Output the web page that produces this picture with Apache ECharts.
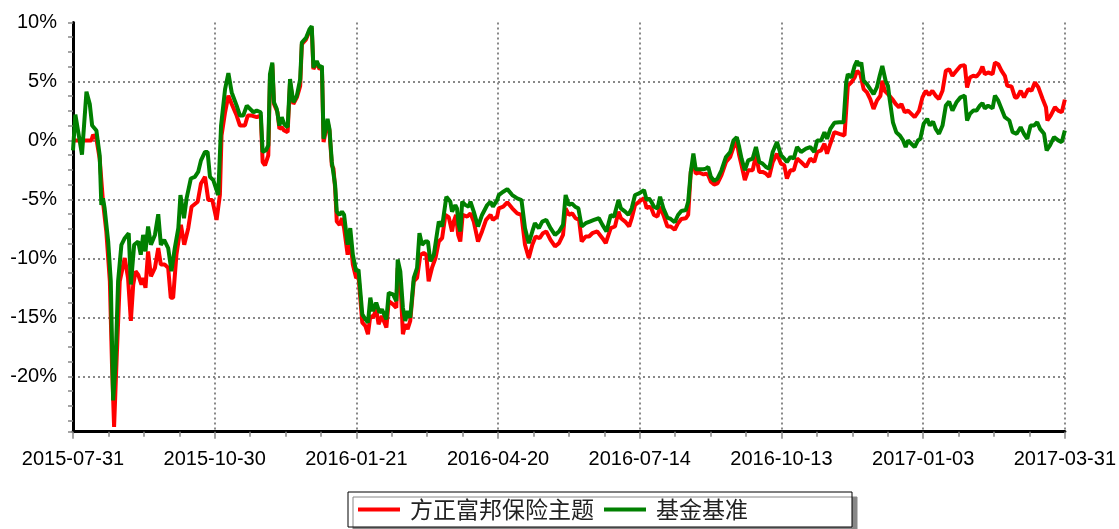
<!DOCTYPE html>
<html>
<head>
<meta charset="utf-8">
<title>方正富邦保险主题</title>
<script src="https://cdn.jsdelivr.net/npm/echarts/dist/echarts.min.js"></script>
<style>
  html, body { margin: 0; padding: 0; background: #fff; }
  #chart { width: 1119px; height: 529px; }
</style>
</head>
<body>
<div id="chart"></div>
<script>
// x 轴刻度标签 (每 60 个交易日一个)
const tickLabels = ['2015-07-31', '2015-10-30', '2016-01-21', '2016-04-20', '2016-07-14', '2016-10-13', '2017-01-03', '2017-03-31']
const seriesNames = ['方正富邦保险主题', '基金基准']

// 方正富邦保险主题 累计收益(%) —— 交易日序号 / 数值
const fundDays = [0, 7.8, 8.5, 9.9, 11.3, 12.7, 14.1, 15.6, 16.5, 17.4, 18.4, 19.8, 21.9, 23.3, 24.5, 25.5, 26.5, 27.6, 29.0, 29.7, 30.7, 31.8, 33.0, 34.7, 36.1, 37.2, 38.9, 40.3, 41.4, 42.4, 43.8, 45.7, 47.1, 48.8, 50.2, 52.8, 54.2, 55.9, 57.3, 59.0, 60.8, 62.2, 62.9, 64.4, 65.8, 67.2, 69.3, 70.7, 72.8, 74.0, 75.7,
  76.4, 77.8, 79.5, 80.3, 81.3, 82.7, 83.4, 84.4, 85.1, 86.6, 87.4, 88.4, 89.4, 90.9, 91.9, 93.3, 94.8, 96.2, 96.9, 98.7, 100.1, 101.1, 101.8, 103.2, 104.4, 105.4, 106.1, 107.8, 108.6, 109.6, 110.3, 111.0, 111.7, 112.9, 113.9, 114.8, 116.3, 117.4, 118.5, 119.9, 120.9, 121.6, 122.5, 123.8, 124.9, 125.9, 127.0, 128.4, 129.4, 130.8, 132.7, 133.7, 135.5, 136.9, 137.5, 138.6, 139.7, 140.7, 141.7, 142.8, 144.3, 145.7, 147.1, 148.5, 149.6, 150.6, 152.0, 153.5, 154.9, 156.3, 157.7, 159.1,
  160.5, 161.2, 162.2, 163.1, 164.0, 165.0, 166.9, 168.3, 169.7, 171.5, 173.2, 174.9, 176.8, 177.8, 179.6, 180.3, 182.2, 183.9, 186.0, 188.1, 189.9, 191.4, 193.0, 194.5, 195.9, 197.6, 199.0, 200.4, 202.2, 204.1, 205.8, 207.5, 208.6, 210.0, 211.4, 212.8, 214.3, 215.4, 217.1, 218.5, 219.9, 222.0, 224.2, 225.6, 227.7, 229.5, 231.0, 232.0, 233.8, 235.5, 236.6, 238.0, 239.7,
  241.8, 242.9, 243.9, 244.9, 246.0, 247.5, 248.6, 250.0, 251.7, 253.1, 254.8, 256.2, 257.6, 259.5, 260.5, 261.6, 262.7, 263.7, 265.1, 267.0, 268.0, 269.0, 270.1, 271.5, 272.9, 274.6, 276.5, 278.3, 279.7, 281.1, 282.1, 283.1, 284.5, 285.9, 287.8, 289.2, 290.6, 292.0, 293.4, 294.8, 296.3, 298.1, 299.8, 301.2, 302.3, 303.8, 305.2, 306.6, 308.3, 310.4, 312.2, 313.9, 315.1, 316.8, 318.2, 319.3, 320.7, 322.4, 324.5,
  326.7, 328.1, 329.6, 331.0, 332.0, 333.4, 334.8, 336.2, 337.6, 339.0, 340.4, 341.9, 342.7, 343.7, 345.1, 346.9, 348.4, 349.8, 350.8, 352.2, 353.6, 355.0, 356.4, 358.3, 359.7, 361.1, 362.5, 363.9, 365.3, 366.7, 368.2, 369.6, 371.0, 372.4, 374.1, 375.8, 377.6, 378.6, 379.8, 381.2, 382.6, 384.0, 385.1, 386.1, 387.5, 389.4, 390.4, 391.8, 393.2, 394.6, 395.6, 397.4, 398.9, 399.8, 401.3, 402.7, 404.5, 405.9, 407.3, 408.8, 410.6, 412.0, 412.6, 414.0, 415.8, 417.2, 418.7, 420]
const fundVals = [0, 0, 0.48, 0.14, -1.54, -5.2, -7.72, -11.94, -18.96, -24.3, -18.96, -11.94, -9.97, -11.66, -15.31, -12.22, -11.1, -11.38, -12.22, -11.66, -12.5, -9.41, -11.52, -10.81, -9.13, -10.53, -10.53, -10.81, -13.34, -13.34, -9.69, -7.16, -8.85, -7.44, -5.62, -5.2, -3.65, -3.09, -5.06, -5.06, -6.74, -4.63, 0.42, 2.39, 3.79, 3.09, 2.11, 1.26, 1.26, 2.11, 2.11,
  1.97, 1.97, 2.11, -1.83, -2.11, -1.26, 5.2, 6.46, 3.09, 2.39, 0.98, 1.12, 0.84, 0.7, 4.92, 3.09, 3.65, 4.63, 8.15, 8.57, 9.27, 9.55, 6.04, 6.6, 6.04, 6.18, -0.14, 1.54, 0.84, -2.11, -2.39, -4.07, -6.88, -7.16, -6.6, -7.44, -9.69, -8.29, -10.53, -11.66, -11.52, -11.38, -15.45, -15.73, -16.43, -14.89, -15.03, -14.33, -15.59, -14.89, -15.87, -13.62, -13.9, -14.19, -10.81, -11.8, -16.43, -15.59, -16.01, -15.31, -11.94, -11.66, -9.69, -9.55, -9.69, -11.94, -10.81, -9.97, -8.57, -8.29, -6.32, -6.5,
  -7.72, -6.88, -6.32, -8.01, -8.57, -6.32, -6.46, -6.18, -6.88, -8.57, -7.72, -6.74, -6.32, -6.74, -6.46, -5.76, -5.62, -5.25, -5.76, -6.18, -6.32, -8.85, -9.97, -8.85, -8.15, -8.29, -7.87, -7.72, -8.43, -8.99, -8.71, -8.01, -5.76, -6.32, -6.18, -6.6, -6.74, -8.57, -8.15, -8.15, -7.87, -7.72, -8.29, -8.71, -7.44, -7.3, -6.04, -6.6, -6.88, -7.3, -6.6, -5.48, -5.2,
  -4.9, -5.76, -5.62, -5.76, -6.32, -6.46, -5.62, -6.32, -7.3, -7.3, -7.58, -7.02, -6.66, -6.6, -6.32, -2.67, -1.83, -2.81, -2.72, -2.89, -2.81, -2.95, -3.51, -3.74, -3.65, -2.95, -1.83, -1.4, -0.56, -0.14, -1.26, -2.11, -3.37, -2.53, -2.53, -1.26, -2.67, -2.67, -2.81, -3.09, -1.83, -1.12, -1.97, -2.11, -3.23, -2.53, -2.53, -1.54, -1.83, -2.25, -1.54, -1.83, -0.98, -0.84, -0.28, -1.12, -0.28, 0.7, 0.56,
  0.42, 4.63, 4.92, 5.34, 5.9, 5.62, 4.35, 4.07, 3.51, 2.67, 3.37, 3.79, 5.06, 4.21, 3.93, 3.51, 3.09, 2.81, 3.09, 2.39, 2.53, 2.25, 1.97, 2.53, 3.65, 4.21, 3.85, 4.21, 3.79, 3.51, 4.21, 5.9, 6.04, 5.48, 5.9, 6.32, 6.38, 4.49, 5.34, 5.48, 5.42, 5.76, 6.26, 5.62, 5.76, 5.62, 6.6, 6.46, 5.9, 5.48, 4.63, 4.58, 3.65, 3.65, 4.21, 3.65, 4.35, 4.21, 4.92, 4.49, 3.51, 2.81, 1.69, 2.11, 2.81, 2.53, 2.39, 3.46]

// 基金基准 累计收益(%)
const benchDays = [0, 1.0, 3.8, 5.7, 7.1, 8.1, 8.9, 9.9, 11.3, 12.0, 12.7, 13.4, 14.9, 16.0, 17.0, 18.0, 19.1, 20.5, 21.9, 23.6, 24.5, 25.9, 27.6, 28.7, 29.7, 30.7, 31.8, 33.0, 34.7, 36.1, 37.2, 38.6, 40.3, 41.7, 43.1, 44.6, 45.5, 47.0, 48.1, 49.9, 51.6, 53.0, 54.2, 55.9, 57.0, 58.0, 59.4, 61.5, 62.7, 64.4, 65.8, 67.2, 69.3, 70.7, 72.1, 73.6,
  76.4, 77.8, 79.5, 80.3, 81.7, 82.7, 83.4, 84.4, 85.1, 86.3, 87.4, 88.4, 89.4, 90.9, 91.9, 93.3, 94.8, 96.2, 96.9, 98.7, 100.1, 101.1, 101.8, 103.2, 104.4, 105.4, 106.1, 107.8, 108.6, 109.6, 110.3, 111.0, 111.7, 112.9, 113.9, 114.8, 116.3, 117.4, 118.5, 119.9, 120.9, 121.6, 122.5, 123.8, 124.9, 125.9, 127.0, 128.4, 129.8, 130.8, 132.7, 133.7, 135.5, 136.9, 137.5, 138.6, 139.7, 140.7, 141.7, 142.8, 144.3, 145.7, 146.7, 147.8, 149.2, 150.3, 151.3, 152.8, 154.9, 156.3, 158.1,
  159.8, 160.5, 161.2, 161.9, 162.6, 163.3, 164.0, 164.8, 166.2, 167.6, 168.3, 169.7, 171.5, 173.2, 175.4, 176.8, 177.8, 179.6, 180.3, 182.2, 183.9, 186.0, 188.1, 189.9, 191.4, 193.0, 194.5, 195.6, 197.3, 198.7, 200.4, 202.2, 204.1, 205.8, 207.5, 208.6, 210.0, 211.2, 212.6, 214.0, 215.4, 217.1, 218.8, 220.6, 222.7, 224.2, 225.9, 227.7, 229.1, 231.0, 232.0, 233.8, 235.2, 236.6, 238.0, 239.7,
  241.8, 242.9, 243.9, 244.9, 246.0, 247.5, 248.6, 250.0, 251.7, 253.1, 254.8, 256.2, 257.6, 259.5, 260.5, 261.6, 262.7, 263.7, 265.1, 267.0, 268.0, 269.0, 270.1, 271.5, 272.9, 274.6, 276.5, 278.3, 279.7, 281.1, 282.1, 283.1, 284.5, 285.9, 287.8, 289.2, 290.6, 292.0, 293.4, 294.8, 296.3, 298.1, 299.8, 301.2, 302.3, 303.8, 305.2, 306.6, 308.3, 310.4, 312.2, 313.9, 315.1, 316.8, 318.2, 319.3, 320.7, 322.4, 324.5,
  326.3, 327.4, 328.1, 329.6, 331.0, 332.0, 332.8, 333.8, 334.8, 336.2, 337.6, 339.0, 340.4, 341.6, 342.7, 344.1, 345.1, 345.8, 347.2, 348.6, 350.1, 351.5, 352.6, 353.6, 355.0, 356.4, 357.8, 358.8, 360.2, 361.7, 362.8, 364.2, 365.3, 366.7, 368.2, 369.6, 371.0, 372.4, 374.1, 375.8, 377.6, 378.6, 379.8, 381.2, 382.6, 384.0, 385.1, 386.1, 387.5, 389.4, 390.4, 391.8, 393.2, 394.6, 396.5, 397.9, 399.6, 401.3, 402.7, 404.1, 405.5, 406.9, 408.3, 409.5, 411.2, 412.3, 413.7, 415.4, 417.2, 418.7, 420]
const benchVals = [-0.84, 2.19, -1.21, 4.13, 3.09, 1.26, 1.4, 0.84, -1.26, -5.48, -4.92, -5.76, -8.57, -11.94, -22.05, -18.96, -11.94, -8.85, -8.29, -7.87, -12.22, -8.85, -8.57, -9.69, -8.01, -9.41, -7.3, -8.85, -8.01, -6.26, -8.85, -8.43, -9.13, -11.1, -9.13, -7.44, -4.63, -6.6, -4.92, -3.23, -3.09, -2.67, -1.69, -0.98, -0.98, -3.09, -3.37, -4.63, 1.26, 4.35, 5.7, 4.07, 2.95, 2.11, 2.11, 2.95,
  2.39, 2.53, 2.39, -0.98, -0.84, -0.42, 5.62, 6.6, 3.23, 2.67, 1.26, 1.97, 1.4, 1.12, 5.2, 3.23, 3.79, 5.2, 8.29, 8.71, 9.41, 9.69, 6.18, 6.74, 6.18, 6.32, 0.14, 1.83, 0.98, -1.83, -1.97, -3.79, -6.04, -6.32, -6.04, -6.32, -8.85, -7.44, -9.69, -11.1, -10.96, -10.81, -14.75, -15.17, -15.45, -13.34, -14.47, -13.76, -14.61, -14.33, -15.17, -12.92, -13.06, -13.62, -10.11, -11.1, -14.19, -15.31, -14.47, -15.03, -11.66, -10.81, -7.87, -8.85, -8.57, -8.57, -10.25, -9.69, -6.88, -7.3, -4.78,
  -5.2, -6.04, -5.76, -5.48, -5.76, -7.16, -7.72, -5.2, -5.48, -5.62, -5.2, -6.04, -7.3, -6.32, -5.48, -5.2, -5.62, -5.06, -4.63, -4.35, -4.13, -4.63, -4.92, -5.06, -7.44, -8.71, -7.72, -7.02, -7.44, -6.88, -6.74, -7.44, -8.01, -7.72, -7.16, -4.63, -5.48, -5.34, -5.62, -5.76, -7.3, -7.02, -6.88, -6.74, -6.6, -7.16, -7.72, -6.32, -6.46, -5.06, -5.76, -6.04, -6.32, -5.76, -4.63, -4.49,
  -4.21, -5.06, -4.92, -5.2, -5.62, -5.76, -4.78, -5.76, -6.54, -6.66, -6.94, -6.32, -5.98, -5.9, -5.2, -2.67, -1.12, -2.44, -2.44, -2.44, -2.39, -2.25, -3.09, -3.43, -3.23, -2.53, -1.4, -0.98, 0, 0.28, -0.56, -1.54, -2.53, -1.69, -1.54, -0.56, -1.83, -1.97, -2.25, -2.39, -0.98, -0.14, -1.26, -1.54, -1.83, -1.4, -1.54, -0.56, -0.98, -0.7, -0.56, -0.98, 0, 0, 0.7, 0.14, 0.98, 1.49, 1.54,
  1.54, 4.92, 5.62, 5.34, 6.32, 6.74, 6.32, 6.6, 5.06, 4.78, 4.35, 3.93, 4.49, 5.48, 6.32, 5.06, 4.63, 3.51, 1.54, 0.7, 0.42, 0, -0.56, 0, -0.28, -0.56, 0, 0.14, 1.4, 1.83, 1.26, 1.6, 0.98, 0.56, 1.26, 2.95, 3.29, 2.53, 3.23, 3.65, 3.79, 1.69, 2.25, 2.53, 2.53, 2.95, 3.17, 2.72, 2.95, 2.72, 3.79, 3.37, 2.67, 1.97, 1.69, 0.7, 0.56, 1.12, 0.56, 0.14, 1.26, 1.26, 1.54, 0.98, 0.56, -0.84, -0.42, 0.28, 0, -0.14, 0.84]

const dayStep = 60
const yMin = -24.7
const yMax = 10

const fontFamily = '"Liberation Sans", Arial, sans-serif'
const gridLine = { show: true, lineStyle: { color: '#888', width: 2, type: [2, 3] } }

const myChart = echarts.init(document.getElementById('chart'), null, { renderer: 'canvas' })
const option = {
  animation: false,
  backgroundColor: '#fff',
  grid: { left: 73, right: 54, top: 22.5, bottom: 97.3, containLabel: false },
  legend: {
    left: 348,
    top: 492,
    data: seriesNames,
    icon: 'rect',
    itemWidth: 42,
    itemHeight: 4,
    itemGap: 10,
    padding: [6, 104, 6, 10],
    borderColor: '#000',
    borderWidth: 1,
    backgroundColor: '#fff',
    shadowColor: '#888',
    shadowOffsetX: 5,
    shadowOffsetY: 5,
    shadowBlur: 0,
    textStyle: {
      color: '#222',
      fontSize: 23,
      fontFamily: '"Noto Sans CJK SC", sans-serif',
      padding: [0, 0, 0, 5]
    }
  },
  xAxis: {
    type: 'value',
    min: 0,
    max: dayStep * (tickLabels.length - 1),
    interval: dayStep,
    axisLine: { show: true, onZero: false, lineStyle: { color: '#000', width: 3 } },
    axisTick: { show: true, length: 7, lineStyle: { color: '#888', width: 1.5 } },
    minorTick: { show: true, splitNumber: 4, length: 5, lineStyle: { color: '#888', width: 1.5 } },
    splitLine: gridLine,
    axisLabel: {
      color: '#000',
      fontSize: 20,
      fontFamily: fontFamily,
      margin: 18,
      formatter: (v) => tickLabels[Math.round(v / dayStep)] || ''
    }
  },
  yAxis: {
    type: 'value',
    min: yMin,
    max: yMax,
    splitNumber: 7,
    axisLine: { show: true, lineStyle: { color: '#000', width: 3 } },
    axisTick: { show: true, length: 5, lineStyle: { color: '#888', width: 1.5 } },
    minorTick: { show: true, splitNumber: 4, length: 5, lineStyle: { color: '#888', width: 1.5 } },
    splitLine: Object.assign({ showMaxLine: false, showMinLine: false }, gridLine),
    axisLabel: {
      color: '#000',
      fontSize: 20,
      fontFamily: fontFamily,
      margin: 16,
      showMinLabel: true,
      formatter: (v) => (Math.abs(v % 5) < 1e-6 ? v + '%' : '')
    }
  },
  series: [
    {
      name: seriesNames[0],
      type: 'line',
      symbol: 'none',
      color: '#ff0000',
      lineStyle: { width: 4, color: '#ff0000' },
      data: fundDays.map((d, i) => [d, fundVals[i]])
    },
    {
      name: seriesNames[1],
      type: 'line',
      symbol: 'none',
      color: '#008000',
      lineStyle: { width: 4, color: '#008000' },
      data: benchDays.map((d, i) => [d, benchVals[i]])
    }
  ]
}
myChart.setOption(option)
window.addEventListener('resize', function() {
  myChart.resize()
})
</script>
</body>
</html>
